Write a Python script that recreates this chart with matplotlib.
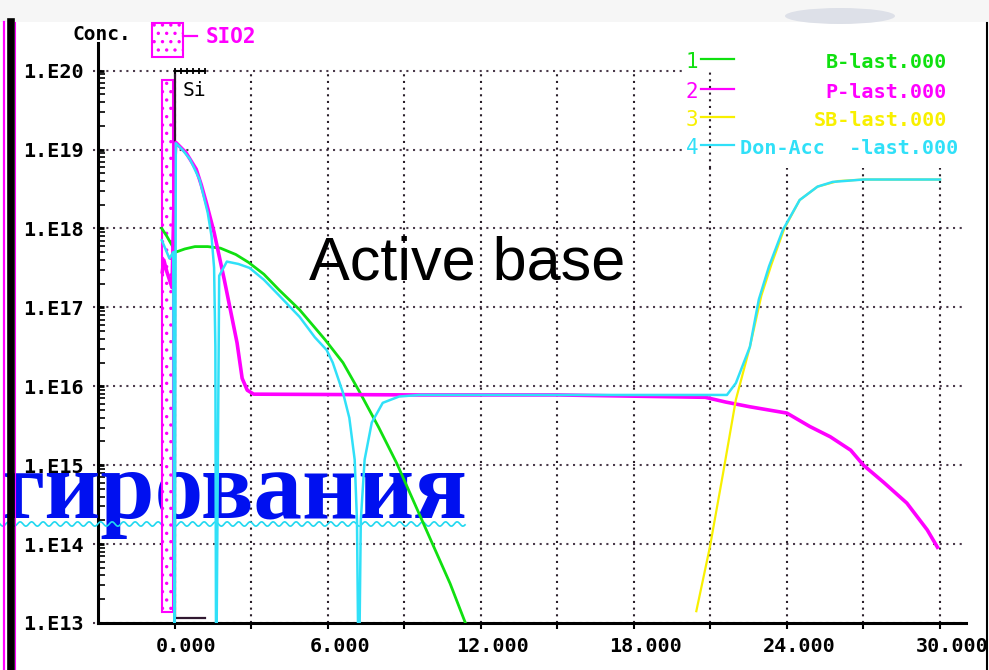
import numpy as np
import matplotlib
matplotlib.use("Agg")
import matplotlib.pyplot as plt
import matplotlib.transforms as mtransforms
from matplotlib.patches import Rectangle, Ellipse
from matplotlib.lines import Line2D
from matplotlib.ticker import FixedLocator, FixedFormatter, NullFormatter
from matplotlib import font_manager

W, H = 989, 670

# depth (um) and log10 of concentration
b_depth = [-0.5, -0.3, 0.05, 0.4, 0.8, 1.3, 1.8, 2.4, 2.9, 3.5, 4.1, 4.9, 5.9,
           6.6, 7.25, 8.0, 8.7, 9.4, 10.1, 10.8, 11.4]
b_log = [18.0, 17.9, 17.7, 17.74, 17.77, 17.77, 17.75, 17.67, 17.57, 17.42, 17.22,
         16.97, 16.59, 16.3, 15.93, 15.48, 15.03, 14.52, 14.01, 13.5, 13.0]

p_depth = [-0.48, -0.42, -0.3, -0.1, 0.02, 0.05, 0.45, 0.85, 1.05, 1.25, 1.55, 1.95,
           2.2, 2.45, 2.65, 2.85, 3.1, 9.6, 15.0, 20.8, 21.6, 22.55, 24.0, 24.9,
           25.7, 26.5, 27.0, 27.8, 28.7, 29.5, 29.9]
p_log = [17.45, 17.6, 17.45, 17.25, 18.9, 19.09, 18.96, 18.75, 18.55, 18.32, 17.95,
         17.35, 16.95, 16.55, 16.1, 15.95, 15.9, 15.89, 15.89, 15.86, 15.8, 15.74,
         15.66, 15.49, 15.36, 15.19, 15.0, 14.78, 14.52, 14.18, 13.96]

sb_depth = [20.45, 20.98, 21.5, 22.0, 22.55, 23.0, 23.4, 23.9, 24.5, 25.2, 26.0, 27.0, 30.0]
sb_log = [13.15, 13.96, 14.9, 15.83, 16.5, 17.15, 17.55, 18.0, 18.36, 18.53, 18.6,
          18.62, 18.62]

net_depth = [-0.5, -0.2, -0.05, 0.0, 0.05, 0.3, 0.6, 0.98, 1.3, 1.45, 1.55, 1.6, 1.63,
             1.75, 2.05, 2.5, 2.94, 3.5, 4.1, 4.9, 5.5, 5.96, 6.2, 6.6, 6.85, 7.06,
             7.15, 7.22, 7.3, 7.45, 7.73, 8.16, 8.8, 9.6, 15.0, 21.0, 21.65, 22.0,
             22.55, 22.9, 23.3, 23.84, 24.5, 25.2, 25.8, 27.0, 30.0]
net_log = [17.85, 17.62, 17.7, 12.0, 19.08, 19.0, 18.88, 18.62, 18.2, 17.9, 17.5,
           16.5, 12.0, 17.4, 17.58, 17.55, 17.5, 17.35, 17.15, 16.88, 16.62, 16.46,
           16.3, 15.92, 15.6, 15.07, 14.3, 12.0, 14.3, 15.07, 15.54, 15.79, 15.87,
           15.89, 15.89, 15.89, 15.89, 16.04, 16.5, 17.1, 17.52, 17.98, 18.36,
           18.53, 18.59, 18.62, 18.62]

oxide_left, oxide_right = -0.5, -0.08
oxide_bottom, oxide_top = 13.14, 19.886
si_mark_end = 1.2

x_major = [0, 6, 12, 18, 24, 30]
x_labels = ["0.000", "6.000", "12.000", "18.000", "24.000", "30.000"]
x_minor = [3, 9, 15, 21, 27]
x_grid = [0, 3, 6, 9, 12, 15, 18, 21, 24, 27, 30]
decades = [13, 14, 15, 16, 17, 18, 19, 20]
y_labels = ["1.E13", "1.E14", "1.E15", "1.E16", "1.E17", "1.E18", "1.E19", "1.E20"]

legend_ids = ["1", "2", "3", "4"]
legend_names = ["B-last.000", "P-last.000", "SB-last.000", "Don-Acc  -last.000"]
legend_colors = ["#10e010", "#ff00ff", "#f8f000", "#30e0f8"]

GREEN, MAGENTA, YELLOW, CYAN = legend_colors
GRID = "#4a3a4a"
MONO = "DejaVu Sans Mono"

installed = {f.name for f in font_manager.fontManager.ttflist}
if "Liberation Sans Narrow" in installed:
    big_font, big_size = "Liberation Sans Narrow", 52
else:
    big_font, big_size = "Liberation Sans", 44


def fx(px):
    return px / W


def fy(py):
    return 1 - py / H


fig = plt.figure(figsize=(W / 100, H / 100), dpi=100)
ax = fig.add_axes([fx(98), 47 / H, (965.5 - 98) / W, 580 / H])
ax.set_yscale("log")
ax.set_xlim(-3, 31)
ax.set_ylim(1e13, 10 ** 20.35)

for s in ["top", "right"]:
    ax.spines[s].set_visible(False)
for s in ["left", "bottom"]:
    ax.spines[s].set_linewidth(2.2)
    ax.spines[s].set_color("black")

ax.xaxis.set_major_locator(FixedLocator(x_major))
ax.xaxis.set_major_formatter(FixedFormatter(x_labels))
ax.xaxis.set_minor_locator(FixedLocator(x_minor))
ax.tick_params(axis="x", which="both", direction="out", length=4, width=1.5, pad=6)
offset = mtransforms.ScaledTranslation(0.12, 0, fig.dpi_scale_trans)
for lab in ax.get_xticklabels():
    lab.set_transform(lab.get_transform() + offset)
    lab.set_fontfamily(MONO)
    lab.set_fontweight("bold")
    lab.set_fontsize(14.5)

yvals = [10.0 ** d for d in decades]
ax.yaxis.set_major_locator(FixedLocator(yvals))
ax.yaxis.set_major_formatter(FixedFormatter(y_labels))
minor = [m * 10.0 ** d for d in decades[:-1] for m in range(2, 10)]
ax.yaxis.set_minor_locator(FixedLocator(minor))
ax.yaxis.set_minor_formatter(NullFormatter())
ax.tick_params(axis="y", which="major", direction="in", length=4, width=2, pad=10)
ax.tick_params(axis="y", which="minor", direction="in", length=5, width=1.2)
for lab in ax.get_yticklabels():
    lab.set_fontfamily(MONO)
    lab.set_fontweight("bold")
    lab.set_fontsize(14.5)

# dotted grid, drawn by hand so it stops at 1.E20
ax.hlines(yvals, -3.2, 31, colors=GRID, linestyles=(0, (1, 2.2)), lw=1.5,
          clip_on=False, zorder=1)
ax.vlines(x_grid, 1e13, 1e20, colors="#2a1f2a", linestyles=(0, (1, 2.2)), lw=1.5,
          zorder=1)

# white panel behind the legend
leg_bottom = 10 ** (20 - (168 - 71) / 78.86)
ax.add_patch(Rectangle((20.0, leg_bottom), 11, 10 ** 20.35 - leg_bottom,
                       facecolor="white", edgecolor="none", zorder=1.5))
ax.vlines([21], leg_bottom, 1e20, colors="#2a1f2a", linestyles=(0, (1, 2.2)),
          lw=1.5, zorder=1.6)

# oxide layer and silicon marker
plt.rcParams["hatch.linewidth"] = 1.2
ax.add_patch(Rectangle((oxide_left, 10 ** oxide_bottom), oxide_right - oxide_left,
                       10 ** oxide_top - 10 ** oxide_bottom, facecolor="white",
                       edgecolor=MAGENTA, hatch="..", lw=1.5, zorder=2.8))
ax.plot([0, 0, si_mark_end], [1e20, 10 ** 13.06, 10 ** 13.06], color="#301830",
        lw=1.6, zorder=2.9)
ax.plot([0, si_mark_end], [1e20, 1e20], color="black", lw=1.5, zorder=2.9)
ax.plot(np.linspace(0, si_mark_end, 6), [1e20] * 6, ls="none", marker="|",
        color="black", ms=5, mew=1.3, zorder=2.9)
ax.text(0.3, 10 ** 19.75, "Si", fontfamily=MONO, fontsize=14, color="black",
        va="center", ha="left", zorder=3)

ax.plot(b_depth, np.power(10.0, b_log), color=GREEN, lw=2, zorder=4)
ax.plot(p_depth, np.power(10.0, p_log), color=MAGENTA, lw=2.6, zorder=4.1)
ax.plot(sb_depth, np.power(10.0, sb_log), color=YELLOW, lw=1.6, zorder=4.2)
ax.plot(net_depth, np.power(10.0, net_log), color=CYAN, lw=1.8, zorder=4.3)

# legend
rows = [62, 92, 120, 148]
for i, (num, name, col) in enumerate(zip(legend_ids, legend_names, legend_colors)):
    y = fy(rows[i])
    fig.text(fx(692), y, num, color=col, fontfamily=MONO, fontsize=15,
             ha="center", va="center")
    fig.add_artist(Line2D([fx(701), fx(734)], [fy(rows[i] - 3)] * 2, color=col,
                          lw=1.6))
    if i < 3:
        fig.text(fx(947), y, name, color=col, fontfamily=MONO, fontsize=14.5,
                 fontweight="bold", ha="right", va="center")
    else:
        fig.text(fx(740), y, name, color=col, fontfamily=MONO, fontsize=14.5,
                 fontweight="bold", ha="left", va="center")

# "Conc." and SiO2 key
fig.text(fx(73), fy(34), "Conc.", fontfamily=MONO, fontsize=14, fontweight="bold",
         color="black", ha="left", va="center")
fig.add_artist(Rectangle((fx(152), fy(57)), fx(31), 34 / H, transform=fig.transFigure,
                         facecolor="white", edgecolor=MAGENTA, hatch="..", lw=1.5))
fig.add_artist(Line2D([fx(183), fx(197)], [fy(36)] * 2, color=MAGENTA, lw=1.6))
fig.text(fx(206), fy(37), "SIO2", fontfamily=MONO, fontsize=15, fontweight="bold",
         color=MAGENTA, ha="left", va="center")

# overlay captions
ax.text(fx(467), fy(280), "Active base", transform=fig.transFigure,
        fontfamily=big_font, fontsize=big_size, color="black", ha="center",
        va="baseline", zorder=3.5, clip_on=False)
ax.text(fx(0), fy(518), "гирования", transform=fig.transFigure,
        fontfamily="Liberation Serif", fontweight="bold", fontsize=70,
        color="#0010f0", ha="left", va="baseline", zorder=2.6, clip_on=False)
wx = np.linspace(0, 465, 400)
ax.plot(fx(wx), fy(524 + 2.2 * np.sin(wx / 11.5 * 2 * np.pi)), transform=fig.transFigure,
        color="#20d8f0", lw=1.2, zorder=2.7, clip_on=False)

# screen borders
fig.add_artist(Rectangle((0, fy(22)), 1, 22 / H, transform=fig.transFigure,
                         facecolor="#f6f6f6", edgecolor="none", zorder=0))
fig.add_artist(Ellipse((fx(840), fy(16)), fx(110), 16 / H, transform=fig.transFigure,
                       facecolor="#dde0e8", edgecolor="none", zorder=0.5))
fig.add_artist(Line2D([fx(4), fx(4)], [0, fy(22)], color=MAGENTA, lw=1.6))
fig.add_artist(Line2D([fx(10.5), fx(10.5)], [0, fy(22)], color="black", lw=5.5))
fig.add_artist(Line2D([fx(15), fx(15)], [0, fy(22)], color=MAGENTA, lw=0.8))
fig.add_artist(Line2D([fx(987), fx(987)], [0, fy(23)], color="black", lw=1.5))

fig.savefig("out.png", dpi=100)
